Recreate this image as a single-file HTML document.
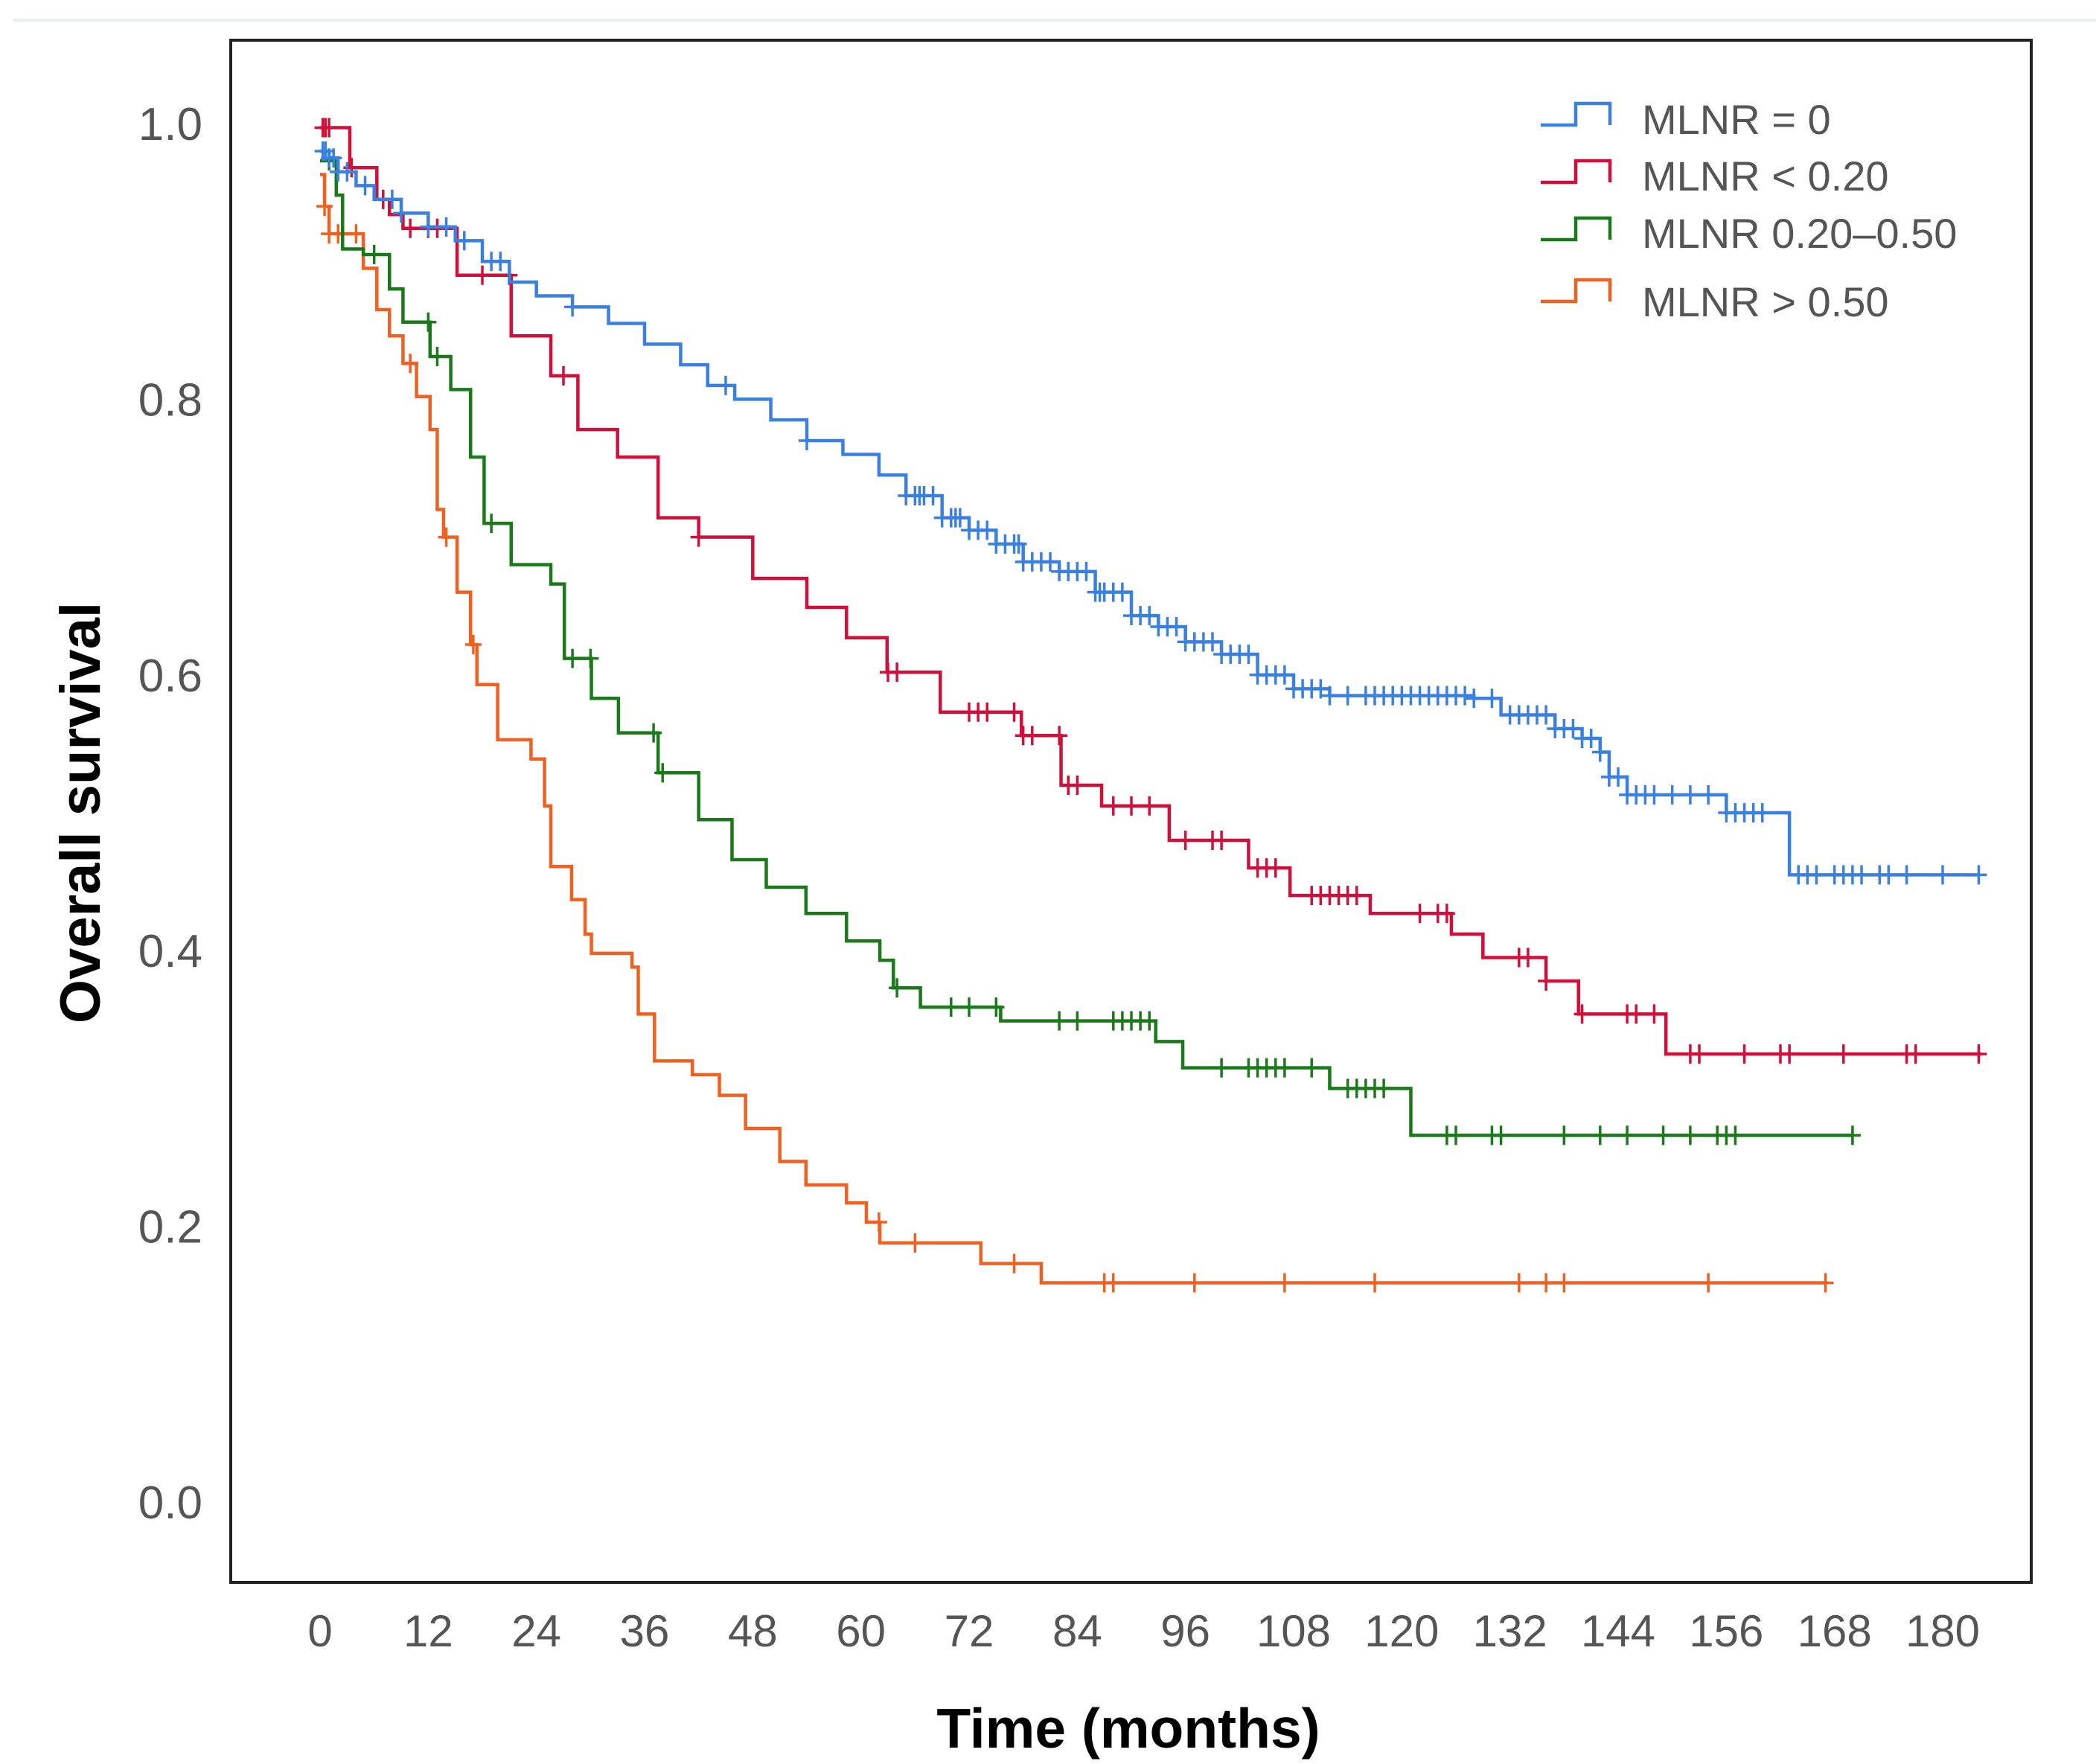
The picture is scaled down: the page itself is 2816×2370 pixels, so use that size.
<!DOCTYPE html>
<html><head><meta charset="utf-8">
<style>
html,body{margin:0;padding:0;background:#fff;}
svg{display:block;}
text{font-family:"Liberation Sans",sans-serif;}
</style></head>
<body>
<svg id="chart" width="2816" height="2370" viewBox="0 0 2816 2370" xmlns="http://www.w3.org/2000/svg">
<rect x="0" y="0" width="2816" height="2370" fill="#fff"/>
<line x1="18" y1="27" x2="2816" y2="27" stroke="#e6eefa" stroke-width="4"/>
<rect x="310" y="54" width="2419" height="2072" fill="#fff" stroke="#222" stroke-width="4"/>
<g id="marks"></g>
<g id="axes"></g>
<text x="1516" y="2348" font-size="75" font-weight="bold" text-anchor="middle" fill="#000">Time (months)</text>
<text transform="translate(134,1092) rotate(-90)" font-size="76" font-weight="bold" text-anchor="middle" fill="#000">Overall survival</text>
<g>
  <g>
    <path d="M2070,168 H2117 V139 H2163 V168" fill="none" stroke="#3a80e0" stroke-width="4.5"/>
    <text x="2206" y="180" font-size="56" fill="#555">MLNR = 0</text>
  </g>
  <g>
    <path d="M2070,245 H2117 V216 H2163 V245" fill="none" stroke="#d0103a" stroke-width="4.5"/>
    <text x="2206" y="256" font-size="56" fill="#555">MLNR &lt; 0.20</text>
  </g>
  <g>
    <path d="M2070,322 H2117 V293 H2163 V322" fill="none" stroke="#1a7a1a" stroke-width="4.5"/>
    <text x="2206" y="333" font-size="56" fill="#555">MLNR 0.20–0.50</text>
  </g>
  <g>
    <path d="M2070,405 H2117 V376 H2163 V405" fill="none" stroke="#f06020" stroke-width="4.5"/>
    <text x="2206" y="425" font-size="56" fill="#555">MLNR &gt; 0.50</text>
  </g>
</g>
</svg>
<script>
const xTicks = [0,12,24,36,48,60,72,84,96,108,120,132,144,156,168,180];
const yTicks = [0.0,0.2,0.4,0.6,0.8,1.0];
const yTickLabels = ["0.0","0.2","0.4","0.6","0.8","1.0"];

const blueTimes = [0,1,2,4,6,9,12,15,18,21,24,28,32,36,40,43,46,50,54,58,62,65,69,72,75,78,82,86,90,93,96,100,104,108,112,128,131,137,140,142,143,145,156,163];
const blueSurv  = [.98,.975,.965,.955,.945,.935,.925,.915,.9,.885,.875,.867,.855,.84,.825,.81,.80,.785,.77,.76,.745,.73,.714,.705,.695,.682,.675,.66,.643,.635,.624,.615,.60,.59,.585,.583,.571,.561,.554,.544,.526,.513,.50,.455];
const blueEnd = 184;
const blueCensor = [0.3,0.6,1,1.5,2,3,5,8,9,12,14,16,19,20,28,45,54,65,66,66.5,67,68,69,70,70.5,71,72,73,74,75,76,77,77.5,78,79,80,81,82,83,84,85,86,86.5,87,88,89,90,91,92,93,94,95,96,97,98,99,100,101,102,103,104,105,106,107,108,109,110,111,112,114,116,117,118,119,120,121,122,123,124,125,126,127,128,130,132,133,134,135,136,137,138,139,140,141,142,143,144,145,146,147,148,150,152,154,156,157,158,159,160,164,165,166,168,169,170,171,173,174,176,180,184];

const redTimes = [0,3.3,6.3,7.7,9.2,15.2,21.2,25.6,28.6,33,37.5,42,48,54,58.4,62.9,68.8,77.8,82.2,86.7,94.2,103,107.6,116.5,125.5,129,136,139.6,149.3];
const redSurv  = [.997,.968,.945,.934,.924,.89,.846,.817,.778,.758,.714,.70,.67,.649,.627,.602,.573,.556,.52,.505,.48,.46,.44,.427,.412,.395,.378,.354,.325];
const redEnd = 184.3;
const redCensor = [0.3,0.6,1,3.5,7,10,12,13,18,21,27,42,63,64,72,73,74,77,78,79,82,83,84,88,90,92,96,99,100,104,105,106,110,111,112,113,114,115,122,124,125,133,134,136,140,145,146,148,152,153,158,162,163,169,176,177,184];

const greenTimes = [0,1.8,2.5,4.8,7.7,9.2,12.2,14.5,16.7,18.2,21.2,25.6,27.1,30.1,33.1,37.5,42,45.7,49.5,53.9,58.4,62.1,63.6,66.6,75.5,92.7,95.7,112,121];
const greenSurv  = [.973,.948,.909,.905,.88,.856,.831,.807,.758,.71,.68,.666,.612,.583,.558,.529,.495,.466,.446,.427,.407,.393,.373,.359,.349,.334,.315,.30,.266];
const greenEnd = 169.9;
const greenCensor = [1,6,12,13,19,28,30,37,38,64,70,72,75,82,84,88,89,90,91,92,100,103,104,105,106,107,110,114,115,116,117,118,125,126,130,131,138,142,145,149,152,155,156,157,170];

const orangeTimes = [0,0.5,1,4.8,6.3,7.7,9.2,10.7,12.2,13,13.7,15.2,16.7,17.4,19.7,23.4,24.9,25.6,27.9,29.4,30.1,34.6,35.3,37.1,41.3,44.3,47.2,51,53.9,58.4,60.6,62.1,73.3,80];
const orangeSurv  = [.963,.94,.92,.895,.865,.846,.826,.802,.778,.72,.70,.66,.622,.593,.553,.539,.505,.461,.437,.412,.398,.388,.354,.32,.31,.295,.271,.247,.23,.217,.203,.188,.173,.159];
const orangeEnd = 167.2;
const orangeCensor = [0.5,1,2,4,10,14,17,62,66,77,87,88,97,107,117,133,136,138,154,167];

const X0 = 430, X1 = 2610, Y0 = 2018, Y1 = 166;
function xs(t){ return X0 + t*(X1-X0)/180; }
function ys(s){ return Y0 - s*(Y0-Y1); }
const NS = "http://www.w3.org/2000/svg";
const marks = document.getElementById('marks');
const axes = document.getElementById('axes');

function survAt(times, surv, t){
  let v = surv[0];
  for (let i=0;i<times.length;i++){ if (times[i] <= t) v = surv[i]; else break; }
  return v;
}

function drawSeries(name, times, surv, end, censor, color){
  const g = document.createElementNS(NS,'g');
  
  
  let d = 'M' + xs(times[0]) + ',' + ys(surv[0]);
  for (let i=1;i<times.length;i++){
    d += ' H' + xs(times[i]) + ' V' + ys(surv[i]);
  }
  d += ' H' + xs(end);
  const p = document.createElementNS(NS,'path');
  
  
  p.setAttribute('d', d);
  p.setAttribute('fill','none');
  p.setAttribute('stroke', color);
  p.setAttribute('stroke-width','4.5');
  g.appendChild(p);
  let cd = '';
  censor.forEach(t => {
    const cx = xs(t), cy = ys(survAt(times, surv, t));
    cd += 'M' + cx + ',' + (cy-13) + ' V' + (cy+13) + ' M' + (cx-11) + ',' + cy + ' H' + (cx+11) + ' ';
  });
  const c = document.createElementNS(NS,'path');
  
  
  c.setAttribute('d', cd);
  c.setAttribute('stroke', color);
  c.setAttribute('stroke-width','3.5');
  c.setAttribute('fill','none');
  g.appendChild(c);
  marks.appendChild(g);
}

drawSeries('orange-mlnr-gt-050', orangeTimes, orangeSurv, orangeEnd, orangeCensor, '#f06020');
drawSeries('green-mlnr-020-050', greenTimes, greenSurv, greenEnd, greenCensor, '#1a7a1a');
drawSeries('red-mlnr-lt-020', redTimes, redSurv, redEnd, redCensor, '#d0103a');
drawSeries('blue-mlnr-0', blueTimes, blueSurv, blueEnd, blueCensor, '#3a80e0');

xTicks.forEach(t => {
  const el = document.createElementNS(NS,'text');
  
  
  el.setAttribute('x', xs(t));
  el.setAttribute('y', 2212);
  el.setAttribute('font-size','60');
  el.setAttribute('fill','#555');
  el.setAttribute('text-anchor','middle');
  el.textContent = String(t);
  axes.appendChild(el);
});
yTicks.forEach((v,i) => {
  const el = document.createElementNS(NS,'text');
  
  
  el.setAttribute('x', 272);
  el.setAttribute('y', ys(v) + 22);
  el.setAttribute('font-size','62');
  el.setAttribute('fill','#555');
  el.setAttribute('text-anchor','end');
  el.textContent = yTickLabels[i];
  axes.appendChild(el);
});
</script>
</body></html>
